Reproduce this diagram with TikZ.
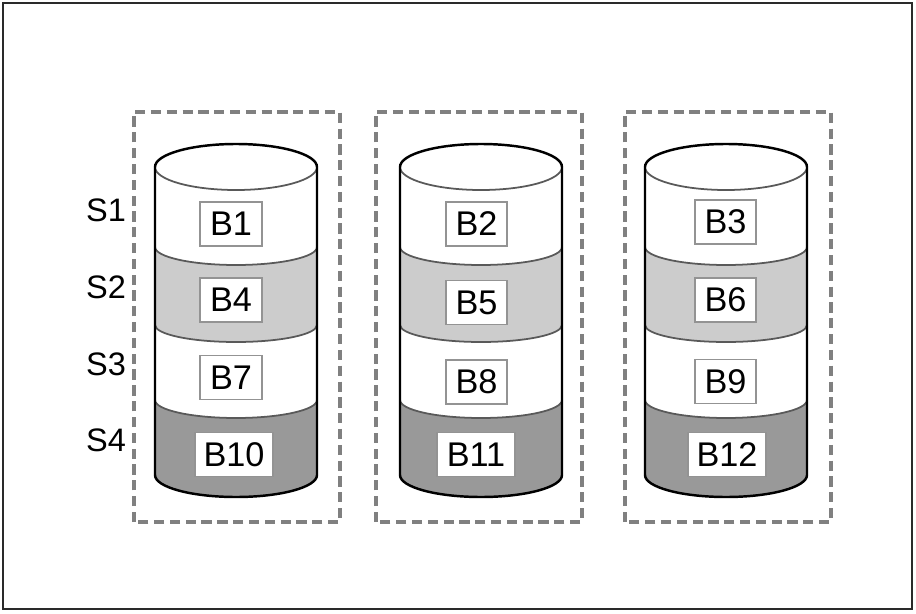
\documentclass[tikz,border=0pt]{standalone}
\usepackage{fontspec}
\setmainfont{Liberation Sans}
\definecolor{lightband}{HTML}{CCCCCC}
\definecolor{darkband}{HTML}{999999}
\definecolor{framegray}{HTML}{2A2A2A}
\tikzset{
  blockbox/.style={draw=gray!85, fill=white, line width=1pt, inner sep=0pt, font=\fontsize{19.5}{19.5}\selectfont, minimum height=25pt},
  stripelabel/.style={font=\fontsize{18.5}{18.5}\selectfont, inner sep=0pt},
  diskgroup/.style={draw=gray, line width=1.8pt, dash pattern=on 5.8pt off 3.2pt},
  diskedge/.style={black, line width=1.4pt},
  bandedge/.style={black!65, line width=1pt}
}
\begin{document}
\begin{tikzpicture}[x=0.02cm,y=0.02cm]
\useasboundingbox (0,0) rectangle (916,613);
\fill[white] (0,0) rectangle (916,613);
\draw[framegray, line width=1.3pt] (3,4) rectangle (912,610);

% stripe names
\node[stripelabel] (s1) at (106,403) {S1};
\node[stripelabel] (s2) at (106,326) {S2};
\node[stripelabel] (s3) at (106,249) {S3};
\node[stripelabel] (s4) at (106,173) {S4};

% one disk per column: left edge of disk, left edge of dashed box
\foreach \x/\g in {155/134, 400/376, 645/625}{
  \draw[diskgroup] (\g,91) rectangle ++(206,410);
  % bottom band first, each higher band lies on top of the one below
  \fill[darkband] (\x,225) -- (\x,138) arc[start angle=180,end angle=360,x radius=81,y radius=22] -- (\x+162,225) -- cycle;
  \fill[white] (\x,300) -- (\x,213) arc[start angle=180,end angle=360,x radius=81,y radius=18] -- (\x+162,300) -- cycle;
  \fill[lightband] (\x,380) -- (\x,288) arc[start angle=180,end angle=360,x radius=81,y radius=17] -- (\x+162,380) -- cycle;
  \fill[white] (\x,446) -- (\x,366) arc[start angle=180,end angle=360,x radius=81,y radius=18] -- (\x+162,446) -- cycle;
  \draw[bandedge] (\x,366) arc[start angle=180,end angle=360,x radius=81,y radius=18];
  \draw[bandedge] (\x,288) arc[start angle=180,end angle=360,x radius=81,y radius=17];
  \draw[bandedge] (\x,213) arc[start angle=180,end angle=360,x radius=81,y radius=18];
  \draw[bandedge] (\x,446) arc[start angle=180,end angle=360,x radius=81,y radius=23];
  \draw[diskedge] (\x,446) arc[start angle=180,end angle=0,x radius=81,y radius=23] -- (\x+162,138) arc[start angle=360,end angle=180,x radius=81,y radius=22] -- cycle;
}

% blocks
\node[blockbox, minimum width=35pt] (b1) at (231,389) {B1};
\node[blockbox, minimum width=35pt] (b4) at (231,313) {B4};
\node[blockbox, minimum width=35pt] (b7) at (231,235.5) {B7};
\node[blockbox, minimum width=44pt] (b10) at (234,158.5) {B10};

\node[blockbox, minimum width=35pt] (b2) at (476.5,389) {B2};
\node[blockbox, minimum width=35pt] (b5) at (476.5,310.5) {B5};
\node[blockbox, minimum width=35pt] (b8) at (476.5,231) {B8};
\node[blockbox, minimum width=44pt] (b11) at (476,158.5) {B11};

\node[blockbox, minimum width=35pt] (b3) at (725.5,391) {B3};
\node[blockbox, minimum width=35pt] (b6) at (725.5,313) {B6};
\node[blockbox, minimum width=35pt] (b9) at (725.5,231.5) {B9};
\node[blockbox, minimum width=44pt] (b12) at (727,158.5) {B12};
\end{tikzpicture}
\end{document}
